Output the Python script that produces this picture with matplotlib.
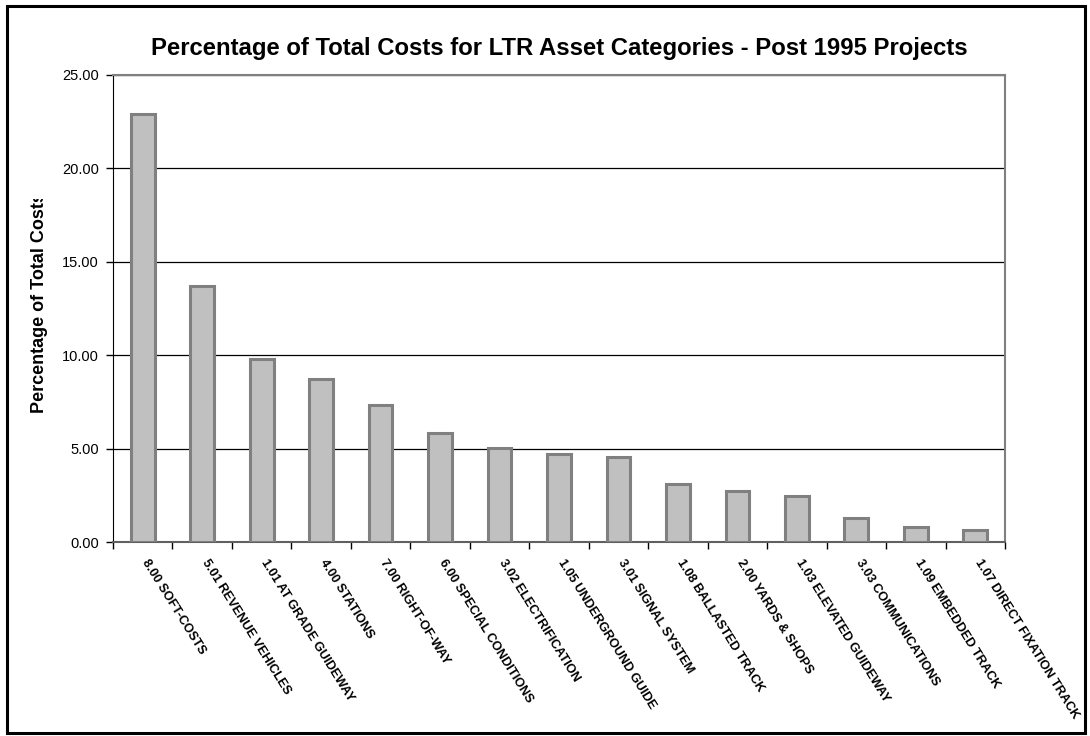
import numpy as np
import matplotlib
matplotlib.use('Agg')
import matplotlib.pyplot as plt
from matplotlib.transforms import Bbox, ScaledTranslation
from matplotlib.patches import Rectangle

# asset categories, sorted by share of total cost
categories = ['8.00 SOFT-COSTS', '5.01 REVENUE VEHICLES', '1.01 AT GRADE GUIDEWAY',
              '4.00 STATIONS', '7.00 RIGHT-OF-WAY', '6.00 SPECIAL CONDITIONS',
              '3.02 ELECTRIFICATION', '1.05 UNDERGROUND GUIDE', '3.01 SIGNAL SYSTEM',
              '1.08 BALLASTED TRACK', '2.00 YARDS & SHOPS', '1.03 ELEVATED GUIDEWAY',
              '3.03 COMMUNICATIONS', '1.09 EMBEDDED TRACK', '1.07 DIRECT FIXATION TRACK']
pct_of_total = [22.90, 13.72, 9.80, 8.71, 7.33, 5.85, 5.05, 4.73, 4.53,
                3.10, 2.73, 2.46, 1.30, 0.79, 0.64]
y_ticks = [0, 5, 10, 15, 20, 25]

plt.rcParams['font.family'] = ['Liberation Sans', 'DejaVu Sans']

W, H = 1090, 736
fig = plt.figure(figsize=(W / 100, H / 100), dpi=100)
ax = fig.add_axes([113 / W, 1 - 542 / H, (1005 - 113) / W, (542 - 75) / H])

x = np.arange(len(categories))
ax.bar(x, pct_of_total, width=0.40, color='#C0C0C0', edgecolor='#808080',
       linewidth=2.2, zorder=3)

ax.set_xlim(-0.5, len(categories) - 0.5)
ax.set_ylim(0, 25)
ax.set_yticks(y_ticks, labels=[f'{v:.2f}' for v in y_ticks])
ax.yaxis.grid(True, color='black', linewidth=0.9, zorder=1)
ax.tick_params(axis='y', direction='out', length=5, width=1, pad=5,
               labelsize=10.5, colors='black')

# tick marks between categories, labels centred under each bar
ax.set_xticks(np.arange(len(categories) + 1) - 0.5, labels=[])
ax.set_xticks(x, labels=categories, minor=True)
ax.tick_params(axis='x', which='major', direction='out', length=5, width=1, color='black')
ax.tick_params(axis='x', which='minor', length=0, pad=11)
shift = ScaledTranslation(5 / 72, 0, fig.dpi_scale_trans)
for lbl in ax.get_xticklabels(minor=True):
    lbl.set_rotation(-58)
    lbl.set_rotation_mode('anchor')
    lbl.set_ha('left')
    lbl.set_va('top')
    lbl.set_fontsize(9.2)
    lbl.set_fontweight('bold')
    lbl.set_transform(lbl.get_transform() + shift)

for side in ['top', 'right']:
    ax.spines[side].set_color('#808080')
    ax.spines[side].set_linewidth(1.5)
ax.spines['left'].set_color('black')
ax.spines['bottom'].set_color('#606060')
ax.spines['bottom'].set_linewidth(1.5)

fig.text(559 / W, 1 - 48 / H,
         'Percentage of Total Costs for LTR Asset Categories - Post 1995 Projects',
         ha='center', va='center', fontsize=17.2, fontweight='bold')

ylab = fig.text(40 / W, 1 - 413 / H, 'Percentage of Total Costs', rotation=90,
                ha='center', va='bottom', fontsize=13, fontweight='bold')
# label box is too short for the whole text, cut it at the top
ylab.set_clip_on(True)
ylab.set_clip_box(Bbox.from_extents(0, 0, W, H - 199))

# chart frame
fig.patches.append(Rectangle((7 / W, 1 - 733 / H), (1085 - 7) / W, (733 - 6) / H,
                             transform=fig.transFigure, fill=False,
                             edgecolor='black', linewidth=2.2))

fig.savefig('out.png', dpi=100)
